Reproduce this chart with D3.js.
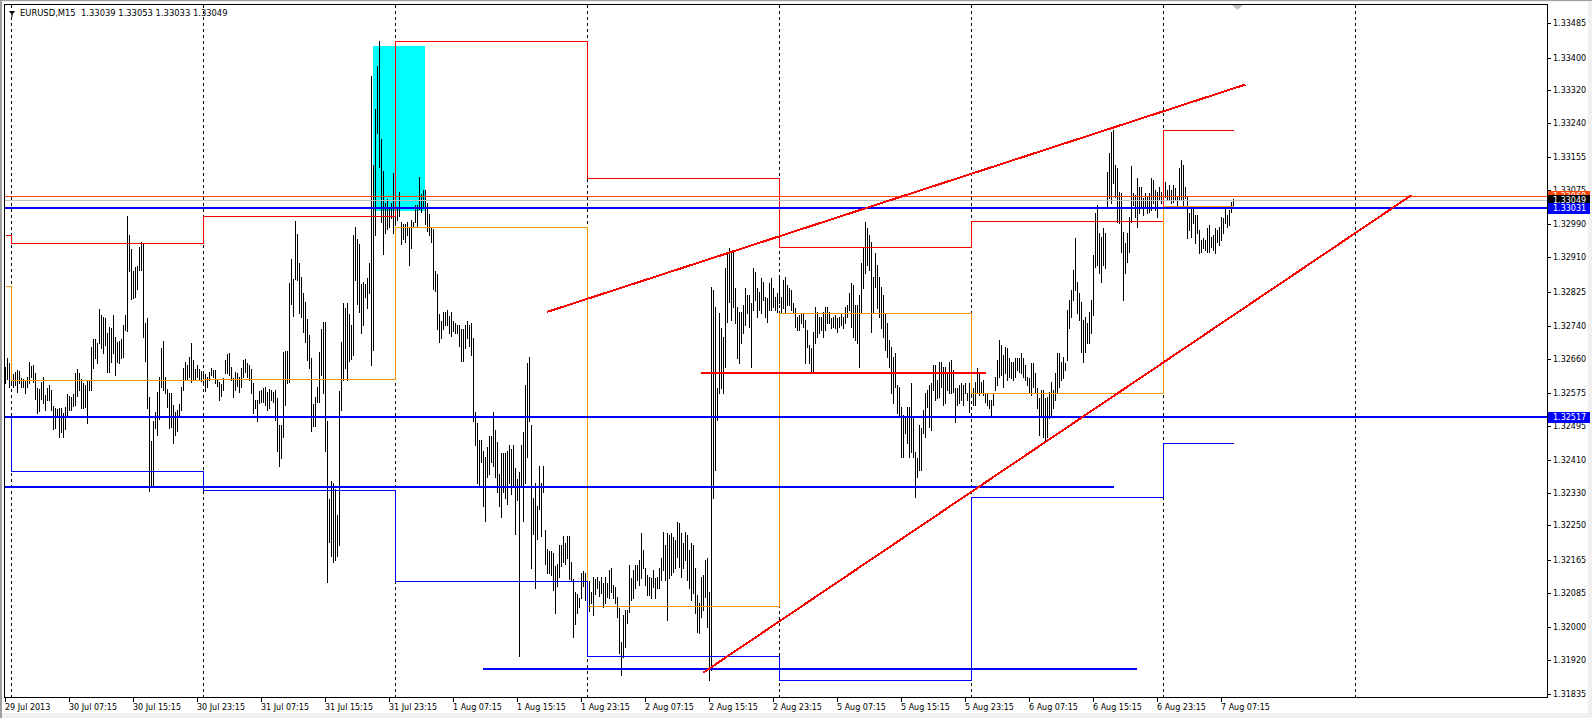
<!DOCTYPE html>
<html><head><meta charset="utf-8">
<script src="https://cdn.jsdelivr.net/npm/d3@7"></script>
<style>
html,body{margin:0;padding:0;background:#f0f0f0;overflow:hidden}
svg{display:block}
text{font-family:"DejaVu Sans",sans-serif;font-size:8px;white-space:pre}
</style>
</head><body><svg id="c" width="1592" height="718"></svg>
<script>
// ---------- DATA ----------
const symbolTitle = "EURUSD,M15  1.33039 1.33053 1.33033 1.33049";
// M15 bar highs / lows, bar 0 = 29 Jul 2013 23:15
const highs = [
1.32639,1.32662,1.32650,1.32627,1.32622,1.32627,1.32632,1.32630,1.32612,1.32610,
1.32607,1.32615,1.32652,1.32642,1.32645,1.32625,1.32588,1.32585,1.32602,1.32615,
1.32571,1.32588,1.32595,1.32583,1.32543,1.32539,1.32536,1.32539,1.32539,1.32527,
1.32541,1.32573,1.32568,1.32566,1.32573,1.32625,1.32635,1.32625,1.32610,1.32600,
1.32595,1.32607,1.32607,1.32688,1.32708,1.32708,1.32698,1.32782,1.32767,1.32762,
1.32760,1.32723,1.32738,1.32735,1.32767,1.32713,1.32701,1.32703,1.32708,1.32743,
1.32767,1.33011,1.32964,1.32929,1.32875,1.32885,1.32888,1.32934,1.32947,1.32944,
1.32748,1.32760,1.32566,1.32458,1.32507,1.32529,1.32578,1.32615,1.32686,1.32703,
1.32615,1.32585,1.32575,1.32575,1.32546,1.32529,1.32534,1.32549,1.32590,1.32637,
1.32652,1.32645,1.32664,1.32698,1.32657,1.32635,1.32645,1.32635,1.32630,1.32630,
1.32622,1.32615,1.32627,1.32637,1.32632,1.32632,1.32610,1.32602,1.32598,1.32612,
1.32657,1.32671,1.32674,1.32640,1.32612,1.32627,1.32625,1.32615,1.32637,1.32657,
1.32659,1.32650,1.32645,1.32635,1.32600,1.32558,1.32558,1.32580,1.32583,1.32588,
1.32590,1.32578,1.32585,1.32583,1.32578,1.32583,1.32563,1.32497,1.32497,1.32676,
1.32679,1.32679,1.32846,1.32905,1.32856,1.32998,1.32966,1.32895,1.32861,1.32821,
1.32799,1.32757,1.32718,1.32662,1.32549,1.32566,1.32590,1.32676,1.32733,1.32750,
1.32750,1.32507,1.32315,1.32359,1.32354,1.32339,1.32275,1.32580,1.32701,1.32797,
1.32784,1.32797,1.32770,1.32743,1.32964,1.32984,1.32954,1.32942,1.32844,1.32848,
1.32844,1.32858,1.32895,1.33355,1.33136,1.33274,1.33379,1.33441,1.33200,1.33121,
1.33043,1.33052,1.33033,1.33043,1.33116,1.33062,1.33033,1.33070,1.32996,1.32991,
1.32991,1.32996,1.32984,1.33001,1.32996,1.33038,1.33038,1.33107,1.33065,1.33075,
1.33075,1.33043,1.33016,1.32984,1.32979,1.32875,1.32868,1.32770,1.32752,1.32775,
1.32775,1.32780,1.32765,1.32775,1.32752,1.32747,1.32743,1.32743,1.32733,1.32733,
1.32743,1.32752,1.32743,1.32747,1.32711,1.32529,1.32501,1.32460,1.32460,1.32433,
1.32418,1.32443,1.32470,1.32470,1.32529,1.32484,1.32455,1.32376,1.32428,1.32428,
1.32428,1.32433,1.32447,1.32438,1.32447,1.32391,1.32364,1.32381,1.32447,1.32479,
1.32595,1.32649,1.32664,1.32497,1.32317,1.32354,1.32297,1.32396,1.32354,1.32396,
1.32238,1.32192,1.32187,1.32187,1.32182,1.32150,1.32155,1.32201,1.32201,1.32224,
1.32206,1.32224,1.32224,1.32160,1.32118,1.32086,1.32081,1.32072,1.32133,1.32138,
1.32133,1.32118,1.32113,1.32086,1.32123,1.32118,1.32123,1.32113,1.32123,1.32108,
1.32123,1.32108,1.32140,1.32145,1.32103,1.32099,1.32074,1.32047,1.31964,1.32030,
1.32042,1.32042,1.32153,1.32121,1.32140,1.32153,1.32153,1.32165,1.32231,1.32189,
1.32145,1.32128,1.32123,1.32121,1.32140,1.32121,1.32123,1.32145,1.32170,1.32234,
1.32201,1.32231,1.32226,1.32231,1.32221,1.32214,1.32258,1.32256,1.32231,1.32206,
1.32234,1.32226,1.32189,1.32206,1.32201,1.32145,1.32079,1.32060,1.32123,1.32128,
1.32165,1.32170,1.32086,1.32836,1.32829,1.32787,1.32588,1.32772,1.32735,1.32713,
1.32883,1.32920,1.32932,1.32922,1.32922,1.32834,1.32787,1.32775,1.32775,1.32792,
1.32834,1.32816,1.32816,1.32797,1.32883,1.32873,1.32834,1.32824,1.32858,1.32848,
1.32811,1.32809,1.32846,1.32858,1.32834,1.32811,1.32821,1.32866,1.32811,1.32853,
1.32861,1.32841,1.32834,1.32829,1.32797,1.32784,1.32762,1.32767,1.32772,1.32772,
1.32755,1.32730,1.32693,1.32686,1.32726,1.32787,1.32775,1.32762,1.32762,1.32775,
1.32787,1.32787,1.32775,1.32760,1.32762,1.32767,1.32760,1.32762,1.32772,1.32762,
1.32787,1.32792,1.32821,1.32846,1.32841,1.32792,1.32792,1.32816,1.32895,1.32932,
1.32996,1.32981,1.32964,1.32947,1.32861,1.32920,1.32890,1.32861,1.32836,1.32816,
1.32772,1.32747,1.32706,1.32689,1.32664,1.32674,1.32595,1.32590,1.32541,1.32521,
1.32514,1.32541,1.32541,1.32600,1.32516,1.32430,1.32416,1.32497,1.32489,1.32533,
1.32575,1.32583,1.32595,1.32600,1.32644,1.32644,1.32607,1.32652,1.32652,1.32640,
1.32640,1.32625,1.32652,1.32657,1.32632,1.32588,1.32588,1.32595,1.32600,1.32595,
1.32600,1.32575,1.32600,1.32595,1.32588,1.32602,1.32637,1.32625,1.32602,1.32607,
1.32575,1.32575,1.32558,1.32558,1.32575,1.32615,1.32657,1.32706,1.32693,1.32669,
1.32689,1.32686,1.32662,1.32652,1.32652,1.32662,1.32662,1.32662,1.32674,1.32662,
1.32644,1.32615,1.32612,1.32649,1.32649,1.32625,1.32588,1.32563,1.32583,1.32583,
1.32563,1.32566,1.32578,1.32602,1.32583,1.32625,1.32674,1.32674,1.32652,1.32664,
1.32649,1.32780,1.32804,1.32829,1.32878,1.32957,1.32848,1.32821,1.32799,1.32755,
1.32762,1.32747,1.32775,1.32804,1.32915,1.33018,1.33038,1.32969,1.32959,1.32981,
1.32969,1.33119,1.33166,1.33217,1.33222,1.33136,1.33129,1.33070,1.33067,1.32971,
1.32944,1.32969,1.33008,1.33134,1.33067,1.33062,1.33104,1.33082,1.33082,1.33055,
1.33067,1.33057,1.33067,1.33104,1.33099,1.33075,1.33070,1.33082,1.33070,1.33087,
1.33094,1.33075,1.33087,1.33075,1.33087,1.33080,1.33057,1.33129,1.33148,1.33136,
1.33082,1.33057,1.33018,1.33030,1.33030,1.33013,1.33013,1.32976,1.32952,1.32957,
1.32952,1.32981,1.32989,1.32959,1.32964,1.32981,1.32976,1.32984,1.33008,1.33006,
1.33033,1.33013,1.33025,1.33045,1.33053];
const lows = [
1.32600,1.32610,1.32590,1.32602,1.32590,1.32595,1.32578,1.32600,1.32590,1.32590,
1.32575,1.32590,1.32600,1.32615,1.32602,1.32560,1.32527,1.32531,1.32560,1.32551,
1.32534,1.32558,1.32558,1.32534,1.32487,1.32490,1.32517,1.32467,1.32480,1.32467,
1.32487,1.32522,1.32534,1.32534,1.32544,1.32546,1.32568,1.32583,1.32539,1.32539,
1.32541,1.32502,1.32583,1.32583,1.32637,1.32662,1.32650,1.32698,1.32686,1.32674,
1.32693,1.32627,1.32627,1.32652,1.32674,1.32620,1.32652,1.32650,1.32662,1.32664,
1.32730,1.32728,1.32875,1.32806,1.32809,1.32811,1.32831,1.32878,1.32878,1.32713,
1.32654,1.32539,1.32335,1.32347,1.32347,1.32490,1.32472,1.32512,1.32590,1.32583,
1.32575,1.32541,1.32490,1.32492,1.32453,1.32472,1.32482,1.32517,1.32534,1.32583,
1.32607,1.32610,1.32615,1.32602,1.32607,1.32607,1.32615,1.32607,1.32605,1.32598,
1.32580,1.32590,1.32607,1.32620,1.32615,1.32600,1.32593,1.32558,1.32568,1.32583,
1.32625,1.32625,1.32620,1.32607,1.32566,1.32583,1.32593,1.32578,1.32590,1.32615,
1.32627,1.32615,1.32607,1.32575,1.32527,1.32539,1.32507,1.32551,1.32553,1.32553,
1.32546,1.32534,1.32539,1.32558,1.32553,1.32509,1.32433,1.32396,1.32416,1.32467,
1.32546,1.32600,1.32602,1.32794,1.32765,1.32856,1.32853,1.32772,1.32762,1.32725,
1.32701,1.32657,1.32637,1.32482,1.32495,1.32495,1.32553,1.32553,1.32620,1.32575,
1.32433,1.32111,1.32209,1.32174,1.32160,1.32164,1.32174,1.32201,1.32533,1.32607,
1.32637,1.32607,1.32654,1.32659,1.32669,1.32853,1.32794,1.32775,1.32723,1.32743,
1.32812,1.32784,1.32821,1.32644,1.32681,1.32964,1.33215,1.33131,1.32996,1.32917,
1.32969,1.32979,1.32984,1.33006,1.32969,1.32989,1.33001,1.33011,1.32942,1.32954,
1.32947,1.32964,1.32890,1.32932,1.32984,1.32996,1.32984,1.33028,1.33020,1.33033,
1.32991,1.32974,1.32964,1.32947,1.32831,1.32826,1.32733,1.32701,1.32711,1.32733,
1.32743,1.32743,1.32723,1.32715,1.32728,1.32723,1.32723,1.32691,1.32654,1.32654,
1.32686,1.32711,1.32691,1.32669,1.32506,1.32447,1.32354,1.32349,1.32406,1.32297,
1.32260,1.32369,1.32376,1.32406,1.32396,1.32369,1.32332,1.32297,1.32270,1.32332,
1.32317,1.32302,1.32354,1.32327,1.32344,1.32228,1.32312,1.31929,1.32344,1.32260,
1.32354,1.32418,1.32506,1.32145,1.32228,1.32096,1.32216,1.32290,1.32224,1.32332,
1.32155,1.32133,1.32133,1.32128,1.32091,1.32035,1.32101,1.32123,1.32150,1.32160,
1.32155,1.32170,1.32118,1.32113,1.31976,1.32008,1.32035,1.32050,1.32072,1.32101,
1.32067,1.32072,1.32040,1.32060,1.32030,1.32081,1.32096,1.32077,1.32084,1.32050,
1.32060,1.32074,1.32072,1.32086,1.32072,1.32060,1.32025,1.31937,1.31883,1.31927,
1.31951,1.32010,1.32037,1.32067,1.32072,1.32096,1.32116,1.32103,1.32121,1.32145,
1.32103,1.32079,1.32079,1.32072,1.32099,1.32072,1.32096,1.32096,1.32116,1.32140,
1.32116,1.32018,1.32121,1.32128,1.32135,1.32145,1.32172,1.32148,1.32123,1.32145,
1.32165,1.32116,1.32096,1.32067,1.32084,1.32035,1.31988,1.31986,1.32025,1.32042,
1.32074,1.32000,1.31870,1.31895,1.32317,1.32386,1.32509,1.32575,1.32588,1.32575,
1.32639,1.32750,1.32799,1.32755,1.32787,1.32747,1.32662,1.32649,1.32698,1.32723,
1.32743,1.32772,1.32738,1.32639,1.32780,1.32804,1.32762,1.32780,1.32772,1.32804,
1.32762,1.32750,1.32780,1.32780,1.32787,1.32780,1.32775,1.32797,1.32772,1.32784,
1.32772,1.32792,1.32792,1.32780,1.32775,1.32738,1.32730,1.32730,1.32747,1.32738,
1.32649,1.32689,1.32649,1.32627,1.32627,1.32698,1.32713,1.32723,1.32730,1.32713,
1.32730,1.32747,1.32747,1.32735,1.32738,1.32735,1.32726,1.32738,1.32743,1.32735,
1.32747,1.32762,1.32780,1.32738,1.32713,1.32706,1.32698,1.32639,1.32772,1.32834,
1.32870,1.32890,1.32878,1.32726,1.32775,1.32836,1.32784,1.32762,1.32735,1.32713,
1.32681,1.32664,1.32639,1.32575,1.32551,1.32590,1.32526,1.32516,1.32418,1.32418,
1.32477,1.32452,1.32418,1.32430,1.32418,1.32320,1.32369,1.32386,1.32386,1.32477,
1.32467,1.32541,1.32492,1.32484,1.32583,1.32558,1.32563,1.32566,1.32590,1.32546,
1.32551,1.32583,1.32575,1.32575,1.32578,1.32504,1.32546,1.32551,1.32558,1.32546,
1.32575,1.32558,1.32529,1.32566,1.32546,1.32546,1.32578,1.32570,1.32575,1.32570,
1.32553,1.32546,1.32538,1.32516,1.32546,1.32583,1.32595,1.32615,1.32620,1.32590,
1.32625,1.32607,1.32615,1.32612,1.32607,1.32615,1.32632,1.32627,1.32625,1.32615,
1.32607,1.32595,1.32575,1.32570,1.32590,1.32575,1.32538,1.32472,1.32521,1.32467,
1.32460,1.32467,1.32514,1.32516,1.32538,1.32558,1.32575,1.32590,1.32607,1.32612,
1.32632,1.32657,1.32735,1.32762,1.32804,1.32829,1.32772,1.32755,1.32676,1.32652,
1.32676,1.32698,1.32698,1.32723,1.32767,1.32885,1.32890,1.32870,1.32848,1.32890,
1.32883,1.33033,1.33055,1.33043,1.33092,1.33057,1.32996,1.32993,1.32922,1.32804,
1.32870,1.32898,1.32922,1.32996,1.33038,1.33008,1.32984,1.33018,1.33033,1.33013,
1.33030,1.33018,1.33020,1.33025,1.33043,1.33025,1.33008,1.33050,1.33043,1.33043,
1.33057,1.33050,1.33050,1.33043,1.33045,1.33050,1.33033,1.33050,1.33050,1.33033,
1.33055,1.32957,1.32976,1.32959,1.32993,1.32944,1.32969,1.32920,1.32922,1.32932,
1.32927,1.32922,1.32922,1.32934,1.32927,1.32920,1.32947,1.32939,1.32952,1.32969,
1.32993,1.32984,1.32989,1.33020,1.33033];

// daily levels indicator (segment start bar and values)
const dayStart  = [0, 3, 99, 195, 291, 387, 483, 579];
const prevHigh  = [1.32964, 1.32944, 1.33011, 1.33440, 1.33104, 1.32934, 1.32998, 1.33221];
const prevClose = [1.32838, 1.32607, 1.32609, 1.32983, 1.32052, 1.32773, 1.32575, 1.33035];
const prevLow   = [1.32517, 1.32383, 1.32337, 1.32113, 1.31928, 1.31870, 1.32319, 1.32452];
const separatorBars = [3, 99, 195, 291, 387, 483, 579, 675];

// x-axis labels (bar index, text)
const xTickBars = [0,32,64,96,128,160,192,224,256,288,320,352,384,416,448,480,512,544,576,608];
const xTickLabels = ["29 Jul 2013","30 Jul 07:15","30 Jul 15:15","30 Jul 23:15","31 Jul 07:15","31 Jul 15:15",
  "31 Jul 23:15","1 Aug 07:15","1 Aug 15:15","1 Aug 23:15","2 Aug 07:15","2 Aug 15:15","2 Aug 23:15",
  "5 Aug 07:15","5 Aug 15:15","5 Aug 23:15","6 Aug 07:15","6 Aug 15:15","6 Aug 23:15","7 Aug 07:15"];
const yTickValues = [1.33485,1.33400,1.33320,1.33240,1.33155,1.33075,1.32990,1.32910,1.32825,1.32740,
  1.32660,1.32575,1.32495,1.32410,1.32330,1.32250,1.32165,1.32085,1.32000,1.31920,1.31835];

// chart objects
const levelOrangeRed = 1.33060;
const bidPrice = 1.33049;
const levelBlueTop = 1.33031;
const levelBlueMid = 1.32517;
const blueSegments = [[-5, 1.32345, 554.2, 1.32345], [238.8, 1.31897, 565.7, 1.31897]];
const redSegments  = [[347.7, 1.32626, 490, 1.32626], [270.8, 1.32775, 620, 1.33334], [348.8, 1.31888, 703, 1.33062]];
const cyanBox = [183.6, 1.33429, 209.6, 1.33023];

// ---------- DRAW ----------
const svg = d3.select('#c');
const PL = 5, PT = 5, PR = 1547, PB = 697;
svg.append('rect').attr('width',1592).attr('height',718).attr('fill','#f0f0f0');
svg.append('rect').attr('x',2).attr('y',2).attr('width',1586).attr('height',711).attr('fill','#fff');
svg.append('rect').attr('x',0).attr('y',0).attr('width',2).attr('height',718).attr('fill','#a0a0a0');
svg.append('rect').attr('x',0).attr('y',0).attr('width',1592).attr('height',1).attr('fill','#a0a0a0');

const xs = d3.scaleLinear().domain([0, 614]).range([5.5, 5.5 + 2*614]);
const ys = d3.scaleLinear().domain([1.31835, 1.33485]).range([694.3, 23.1]);
const Y = p => Math.round(ys(p));

svg.append('clipPath').attr('id','clip').append('rect')
  .attr('x',PL).attr('y',PT).attr('width',PR-PL).attr('height',PB-PT);
const g = svg.append('g').attr('clip-path','url(#clip)').attr('shape-rendering','crispEdges');

// separators
g.selectAll('line.sep').data(separatorBars).join('line').attr('class','sep')
  .attr('x1',d=>xs(d)).attr('x2',d=>xs(d)).attr('y1',PT).attr('y2',PB)
  .attr('stroke','#000').attr('stroke-width',1).attr('stroke-dasharray','3,3');

// cyan rectangle
g.append('rect').attr('x',Math.round(xs(cyanBox[0]))).attr('y',Y(cyanBox[1]))
  .attr('width',Math.round(xs(cyanBox[2]))-Math.round(xs(cyanBox[0])))
  .attr('height',Y(cyanBox[3])-Y(cyanBox[1])).attr('fill','#00ffff');

// bars
const n = Math.min(highs.length, lows.length);
const bars = d3.range(n);
g.selectAll('line.bar').data(bars).join('line').attr('class','bar')
  .attr('x1',i=>xs(i)).attr('x2',i=>xs(i))
  .attr('y1',i=>Y(highs[i])).attr('y2',i=>Math.max(Y(lows[i]),Y(highs[i])+1)+1)
  .attr('stroke','#000').attr('stroke-width',1);

// daily step lines
function stepPts(vals){
  const pts = dayStart.map((s,k)=>[s, vals[k]]);
  pts.push([n-1, vals[vals.length-1]]);
  return pts;
}
const stepLine = d3.line().x(d=>xs(d[0])).y(d=>Y(d[1])+0.5).curve(d3.curveStepAfter);
[[prevHigh,'#ff0000'],[prevClose,'#ff9900'],[prevLow,'#0000ff']].forEach(([v,c])=>{
  g.append('path').attr('d',stepLine(stepPts(v))).attr('fill','none').attr('stroke',c).attr('stroke-width',1);
});

// full-width levels
function hline(p, color, w){
  const yy = w===1 ? Y(p)+0.5 : Y(p);
  g.append('line').attr('x1',PL).attr('x2',PR).attr('y1',yy).attr('y2',yy)
    .attr('stroke',color).attr('stroke-width',w);
}
hline(levelOrangeRed,'#ff4500',1);
hline(bidPrice,'#c0c0c0',1);
hline(levelBlueTop,'#0000ff',2);
hline(levelBlueMid,'#0000ff',2);

// segments
function seg(s,color){
  g.append('line').attr('x1',xs(s[0])).attr('y1',ys(s[1])).attr('x2',xs(s[2])).attr('y2',ys(s[3]))
    .attr('stroke',color).attr('stroke-width',2);
}
blueSegments.forEach(s=>seg(s,'#0000ff'));
redSegments.forEach(s=>seg(s,'#ff0000'));

// frame
svg.append('rect').attr('x',4.5).attr('y',4.5).attr('width',PR-4).attr('height',PB-4)
  .attr('fill','none').attr('stroke','#000').attr('stroke-width',1).attr('shape-rendering','crispEdges');

// right axis
const ax = svg.append('g').attr('shape-rendering','crispEdges');
yTickValues.forEach(v=>{
  const yy = Y(v)+0.5;
  ax.append('line').attr('x1',1548).attr('x2',1551).attr('y1',yy).attr('y2',yy).attr('stroke','#000');
  ax.append('text').attr('x',1553).attr('y',Y(v)+3).attr('fill','#000').text(v.toFixed(5));
});
// price boxes
[[levelOrangeRed,'#ff4500'],[bidPrice,'#000000'],[levelBlueTop,'#0000ff'],[levelBlueMid,'#0000ff']].forEach(([p,c])=>{
  const yy = Y(p);
  ax.append('rect').attr('x',1548).attr('y',yy-5).attr('width',42).attr('height',11).attr('fill',c);
  ax.append('text').attr('x',1553).attr('y',yy+3).attr('fill','#fff').text(p.toFixed(5));
});

// bottom axis
xTickBars.forEach((b,k)=>{
  const xx = xs(b);
  ax.append('line').attr('x1',xx).attr('x2',xx).attr('y1',698).attr('y2',702).attr('stroke','#000');
  ax.append('text').attr('x',xx-0.5).attr('y',710).attr('fill','#000').text(xTickLabels[k]);
});

// title
svg.append('path').attr('d','M9,11 L15,11 L12,15 Z').attr('fill','#000');
svg.append('line').attr('x1',12).attr('x2',12).attr('y1',14).attr('y2',17).attr('stroke','#000');
svg.append('text').attr('x',20).attr('y',15.5).attr('fill','#000').style('font-size','8.4px').text(symbolTitle);
// chart shift marker
svg.append('path').attr('d','M1232,5 L1243,5 L1237.5,10 Z').attr('fill','#c0c0c0');
</script>
</body></html>
